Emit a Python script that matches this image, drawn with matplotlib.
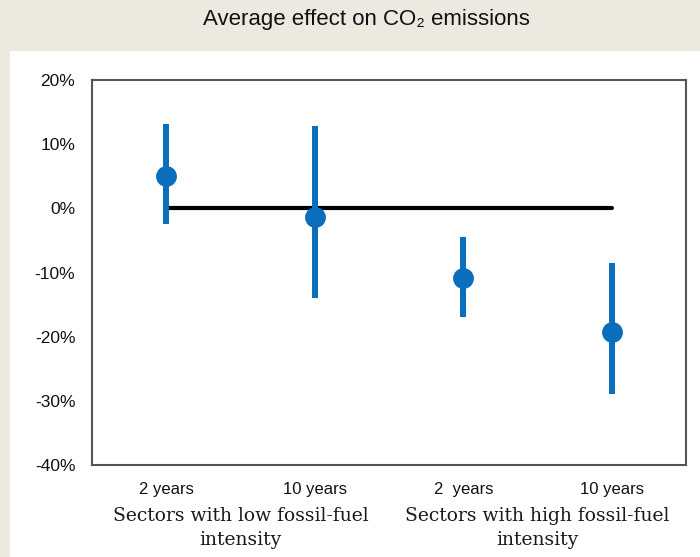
import matplotlib
matplotlib.use("Agg")
import matplotlib.pyplot as plt
from matplotlib.patches import Rectangle
from matplotlib.ticker import FuncFormatter
import matplotlib.transforms as mtrans

# Data
tick_labels = ["2 years", "10 years", "2  years", "10 years"]
group_labels = ["Sectors with low fossil-fuel\nintensity", "Sectors with high fossil-fuel\nintensity"]
estimates = [5.1, -1.4, -10.9, -19.2]
upper = [13.2, 12.9, -4.5, -8.5]
lower = [-2.5, -13.9, -17.0, -29.0]
baseline = [0, 0, 0, 0]

W, H = 700, 557
fig = plt.figure(figsize=(W / 100, H / 100), dpi=100)
fig.patch.set_facecolor("#ECEAE0")
fig.patches.append(Rectangle((10 / W, 0), 1 - 10 / W, (H - 51) / H, transform=fig.transFigure,
                             facecolor="white", edgecolor="none", zorder=-10))

ax = fig.add_axes([92 / W, (H - 465) / H, (686 - 92) / W, (465 - 80) / H])
ax.set_facecolor("white")

x = list(range(1, len(estimates) + 1))
blue = "#0A6EBD"
ax.plot(x, baseline, color="black", lw=3, solid_capstyle="round", zorder=2)
ax.vlines(x, lower, upper, color=blue, lw=4.3, zorder=3)
ax.plot(x, estimates, "o", color=blue, markersize=14, zorder=4)

ax.set_xlim(0.5, 4.5)
ax.set_ylim(-40, 20)
ax.set_yticks(range(-40, 21, 10))
ax.yaxis.set_major_formatter(FuncFormatter(lambda v, p: f"{int(v)}%"))
ax.set_xticks(x)
ax.set_xticklabels(tick_labels)
ax.tick_params(axis="y", length=0, labelsize=12.5, colors="#111111", pad=12)
ax.tick_params(axis="x", length=0, labelsize=12, colors="#111111", pad=12)
for lbl in ax.get_xticklabels() + ax.get_yticklabels():
    lbl.set_family(["Liberation Sans", "DejaVu Sans"])
for s in ax.spines.values():
    s.set_color("#555555")
    s.set_linewidth(1.5)

trans = mtrans.blended_transform_factory(ax.transData, fig.transFigure)
centers = [(x[0] + x[1]) / 2, (x[2] + x[3]) / 2]
for cx, g in zip(centers, group_labels):
    ax.text(cx, 1 - 507 / H, g, transform=trans, ha="center", va="top", fontsize=13.5,
            family=["DejaVu Serif"], color="#1a1a1a", linespacing=1.45)

fig.text(366 / W, 1 - 25 / H, "Average effect on CO₂ emissions", ha="center", va="baseline",
         fontsize=16, family=["Liberation Sans", "DejaVu Sans"], color="#111111")

fig.savefig("out.png", dpi=100, facecolor=fig.get_facecolor())
